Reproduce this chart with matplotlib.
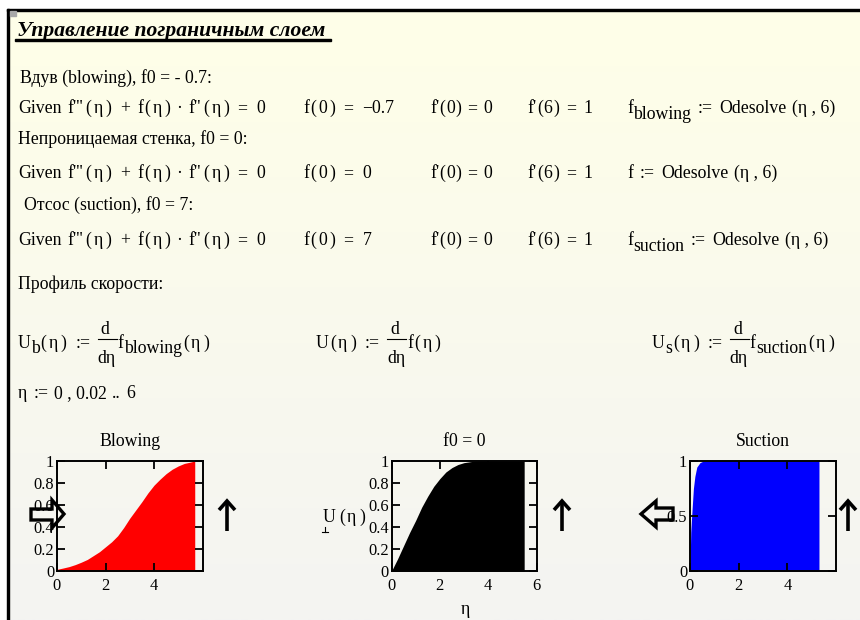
import matplotlib
matplotlib.use("Agg")
import matplotlib.pyplot as plt
import numpy as np
from matplotlib.patches import Polygon, Rectangle

# ---- velocity profiles U(eta) = f'(eta) ----
eta_blowing = [0.0, 0.25, 0.5, 0.75, 1.0, 1.25, 1.5, 1.75, 2.0, 2.25, 2.5, 2.75, 3.0,
               3.25, 3.5, 3.75, 4.0, 4.25, 4.5, 4.75, 5.0, 5.25, 5.5, 5.68]
u_blowing = [0.015, 0.027, 0.04, 0.058, 0.08, 0.105, 0.14, 0.175, 0.22, 0.265, 0.32,
             0.395, 0.48, 0.555, 0.63, 0.71, 0.78, 0.835, 0.885, 0.925, 0.955, 0.978,
             0.99, 1.0]

eta_wall = [0.0, 0.25, 0.5, 0.75, 1.0, 1.25, 1.5, 1.75, 2.0, 2.25, 2.5, 2.75, 3.0,
            3.3, 3.6, 4.0, 5.0, 5.49]
u_wall = [0.0, 0.11, 0.23, 0.35, 0.46, 0.58, 0.68, 0.77, 0.84, 0.9, 0.94, 0.968,
          0.985, 0.995, 1.0, 1.0, 1.0, 1.0]

eta_suction = [0.0, 0.03, 0.055, 0.1, 0.14, 0.2, 0.28, 0.41, 0.55, 1.0, 3.0, 5.3]
u_suction = [0.0, 0.35, 0.45, 0.61, 0.75, 0.86, 0.945, 0.985, 1.0, 1.0, 1.0, 1.0]

titles = ["Blowing", "f0 = 0", "Suction"]
colors = ["#ff0000", "#000000", "#0000ff"]
yticks_fine = [0, 0.2, 0.4, 0.6, 0.8, 1]
ylabels_fine = ["0", "0.2", "0.4", "0.6", "0.8", "1"]
yticks_coarse = [0, 0.5, 1]
ylabels_coarse = ["0", "0.5", "1"]

W, H = 860, 620
SERIF = "Liberation Serif"
FS = 12.8
TICK_FS = 11.8

fig = plt.figure(figsize=(W / 100, H / 100), dpi=100)
fig.patch.set_facecolor("white")

# page layer in pixel coordinates
bg = fig.add_axes([0, 0, 1, 1])
grad = np.linspace(0, 1, 256)[:, None, None]
top = np.array([255, 255, 232]) / 255
bot = np.array([244, 244, 242]) / 255
img = top * (1 - grad) + bot * grad
bg.imshow(img, extent=[9, W, H, 10], aspect="auto", zorder=0, interpolation="bilinear")
bg.set_xlim(0, W)
bg.set_ylim(H, 0)
bg.axis("off")
bg.add_patch(Rectangle((7, 8.5), W - 7, 2.2, color="black", zorder=2))
bg.add_patch(Rectangle((7, 8.5), 2.2, H, color="black", zorder=2))
bg.add_patch(Rectangle((9.5, 11), 6, 5, color="#a8a8a8", zorder=2))

renderer = fig.canvas.get_renderer()


def txt(x, y, s, size=FS, **kw):
    return bg.text(x, y, s, fontsize=size, family=SERIF, va="baseline", ha="left", **kw)


def run(x, y, parts):
    """Lay out text pieces left to right: (string, gap_before, dy)."""
    for s, gap, dy in parts:
        x += gap
        t = txt(x, y + dy, s)
        x += t.get_window_extent(renderer).width
    return x


def par(s, gap=2, inner=2.5):
    """Parenthesised argument with the loose spacing of the worksheet."""
    return [("(", gap, 0), (s, inner, 0), (")", inner, 0)]


def frac(x, y):
    """d/dη stacked fraction starting at x, main baseline y."""
    lo = txt(x, y + 15, "dη")
    w = lo.get_window_extent(renderer).width
    bg.text(x + w / 2 - 1.5, y - 14, "d", fontsize=FS, family=SERIF,
            va="baseline", ha="center")
    bg.plot([x, x + w + 1], [y - 9, y - 9], color="black", lw=0.8)
    return x + w + 2


def ode(y):
    parts = [("f'''", 0, 0)] + par("η", 3) + [("+", 8, 0), ("f", 8, 0)] + par("η", 1)
    parts += [("·", 6, 0), ("f''", 6, 0)] + par("η", 2) + [("=", 8, 0), ("0", 9, 0)]
    run(67, y, parts)


# title
txt(17, 36, "Управление пограничным слоем", size=15.6, fontweight="bold", style="italic")
bg.add_patch(Rectangle((15, 39), 316, 1.6, color="black"))

txt(20, 83, "Вдув (blowing), f0 = - 0.7:")
rows = [
    (113, "−0.7", "blowing"),
    (178, "0", None),
    (245, "7", "suction"),
]
for y, bc, sub in rows:
    txt(18, y, "Given")
    ode(y)
    run(303, y, [("f", 0, 0)] + par("0", 1) + [("=", 8, 0), (bc, 9, 0)])
    run(430, y, [("f'", 0, 0)] + par("0", 0.5, 0.5) + [("=", 6, 0), ("0", 6, 0)])
    run(527, y, [("f'", 0, 0)] + par("6", 0.5, 1) + [("=", 7, 0), ("1", 7, 0)])
    if sub:
        run(627, y, [("f", 0, 0), (sub, 0, 6), (":=", 7, 0), ("Odesolve", 6, 0),
                     ("(η , 6)", 6, 0)])
    else:
        run(627, y, [("f", 0, 0), (":=", 7, 0), ("Odesolve", 6, 0), ("(η , 6)", 6, 0)])
txt(18, 144, "Непроницаемая стенка, f0 = 0:")
txt(24, 210, "Отсос (suction), f0 = 7:")

txt(18, 289, "Профиль скорости:")

yU = 348
x = run(18, yU, [("U", 0, 0), ("b", 0, 5)] + par("η", 1) + [(":=", 9, 0)])
x = frac(x + 7, yU)
run(x, yU, [("f", 0, 0), ("blowing", 0, 5)] + par("η", 1))

x = run(316, yU, [("U", 0, 0)] + par("η", 1) + [(":=", 9, 0)])
x = frac(x + 7, yU)
run(x, yU, [("f", 0, 0)] + par("η", 1))

x = run(652, yU, [("U", 0, 0), ("s", 0, 5)] + par("η", 1) + [(":=", 9, 0)])
x = frac(x + 7, yU)
run(x, yU, [("f", 0, 0), ("suction", 0, 5)] + par("η", 1))

run(18, 398, [("η", 0, 0), (":=", 6, 0), ("0 , 0.02", 6, 0), ("..", 5, 0), ("6", 5, 0)])

# ---- the three profile charts ----
boxes = [(57, 202.5), (391.5, 536.5), (690, 836)]
ax_top, ax_bot = 461, 571
series = [(eta_blowing, u_blowing), (eta_wall, u_wall), (eta_suction, u_suction)]
for i, ((l, r), (eta, u)) in enumerate(zip(boxes, series)):
    ax = fig.add_axes([l / W, 1 - ax_bot / H, (r - l) / W, (ax_bot - ax_top) / H])
    ax.set_facecolor("none")
    ax.fill_between(eta, 0, u, color=colors[i], lw=0, zorder=1)
    ax.set_xlim(0, 6)
    ax.set_ylim(0, 1)
    if i == 2:
        ax.set_yticks(yticks_coarse, ylabels_coarse)
    else:
        ax.set_yticks(yticks_fine, ylabels_fine)
    if i == 1:
        ax.set_xticks([0, 2, 4, 6], ["0", "2", "4", "6"])
    else:
        ax.set_xticks([0, 2, 4], ["0", "2", "4"])
    for sp in ax.spines.values():
        sp.set_linewidth(1.4)
        sp.set_zorder(3)
    ax.tick_params(direction="in", length=6, width=1.3, top=True, right=True,
                   labelsize=TICK_FS, pad=2)
    ax.tick_params(axis="x", pad=5)
    for lab in ax.get_xticklabels() + ax.get_yticklabels():
        lab.set_family(SERIF)
    bg.text((l + r) / 2, 446, titles[i], fontsize=FS, family=SERIF,
            ha="center", va="baseline")

# axis labels of the middle chart
run(323, 522, [("U", 0, 0)] + par("η", 3))
bg.plot([322, 328], [532, 532], color="black", lw=0.8)
bg.plot([325, 325], [527, 532], color="black", lw=0.8)
bg.text(465.5, 614, "η", fontsize=FS, family=SERIF, ha="center", va="baseline")

# ---- direction arrows drawn over everything ----
ov = fig.add_axes([0, 0, 1, 1])
ov.set_xlim(0, W)
ov.set_ylim(H, 0)
ov.axis("off")
ov.patch.set_alpha(0)

right_arrow = [(31, 509), (52, 509), (52, 500), (64, 514), (52, 528), (52, 520), (31, 520)]
left_arrow = [(673, 508), (656, 508), (656, 501), (641, 514), (656, 527), (656, 520), (673, 520)]
for pts in (right_arrow, left_arrow):
    ov.add_patch(Polygon(pts, closed=True, facecolor="none", edgecolor="black",
                         lw=2.4, joinstyle="miter"))

for cx in (227, 562, 848):
    ov.plot([cx, cx], [531, 502], color="black", lw=2.6, solid_capstyle="butt")
    ov.plot([cx - 8, cx, cx + 8], [510, 501, 510], color="black", lw=2.6,
            solid_joinstyle="miter", solid_capstyle="butt")

fig.savefig("out.png", dpi=100)
